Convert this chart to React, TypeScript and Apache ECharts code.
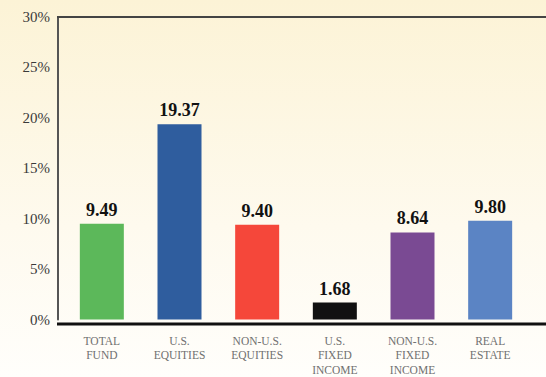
import React, { useEffect, useRef } from "react";
import * as echarts from "echarts";

const categories = ["TOTAL\nFUND", "U.S.\nEQUITIES", "NON-U.S.\nEQUITIES", "U.S.\nFIXED\nINCOME", "NON-U.S.\nFIXED\nINCOME", "REAL\nESTATE"];
const values = [9.49, 19.37, 9.4, 1.68, 8.64, 9.8];
const barColors = ["#5cb85a", "#2f5d9e", "#f5473a", "#111111", "#7a4a93", "#5b84c4"];
const yTicks = [0, 5, 10, 15, 20, 25, 30];

const SERIF = "'Liberation Serif', 'DejaVu Serif', serif";

export default function App() {
  const ref = useRef<HTMLDivElement>(null);
  useEffect(() => {
    if (!ref.current) return;
    const chart = echarts.init(ref.current, null, { renderer: "svg" });
    chart.setOption({
      animation: false,
      backgroundColor: {
        type: "linear", x: 0, y: 0, x2: 0, y2: 1,
        colorStops: [
          { offset: 0, color: "#fcf3d6" },
          { offset: 0.6, color: "#fefaee" },
          { offset: 1, color: "#fffefb" },
        ],
      },
      grid: { left: 63, right: 17, top: 17, bottom: 55 },
      xAxis: {
        type: "category",
        data: categories,
        axisLine: { show: false },
        axisTick: { show: false },
        axisLabel: {
          color: "#707070",
          fontFamily: SERIF,
          fontSize: 11.5,
          lineHeight: 14.5,
          margin: 14,
          interval: 0,
          align: "center",
        },
      },
      yAxis: {
        type: "value",
        min: 0,
        max: 30,
        interval: 5,
        offset: 5,
        axisLine: { show: true, lineStyle: { color: "#555555", width: 2 } },
        axisTick: { show: false },
        splitLine: { show: false },
        axisLabel: {
          color: "#3a3a3a",
          fontFamily: SERIF,
          fontSize: 15,
          margin: 8,
          formatter: (v: number) => (yTicks.includes(v) ? `${v}%` : ""),
        },
      },
      graphic: [
        {
          type: "line",
          shape: { x1: 57, y1: 17, x2: 546, y2: 17 },
          style: { stroke: "#444444", lineWidth: 2 },
          z: 10,
        },
        {
          type: "line",
          shape: { x1: 57, y1: 324, x2: 546, y2: 324 },
          style: { stroke: "#111111", lineWidth: 3 },
          z: 10,
        },
      ],
      series: [
        {
          type: "bar",
          barWidth: 44,
          data: values.map((v, i) => ({ value: v, itemStyle: { color: barColors[i] } })),
          label: {
            show: true,
            position: "top",
            distance: 5,
            color: "#111111",
            fontFamily: SERIF,
            fontWeight: "bold",
            fontSize: 18,
            formatter: (p: any) => p.value.toFixed(2),
          },
        },
      ],
    });
    return () => chart.dispose();
  }, []);
  return <div ref={ref} style={{ width: 546, height: 377, position: "absolute", left: 0, top: 0 }} />;
}
